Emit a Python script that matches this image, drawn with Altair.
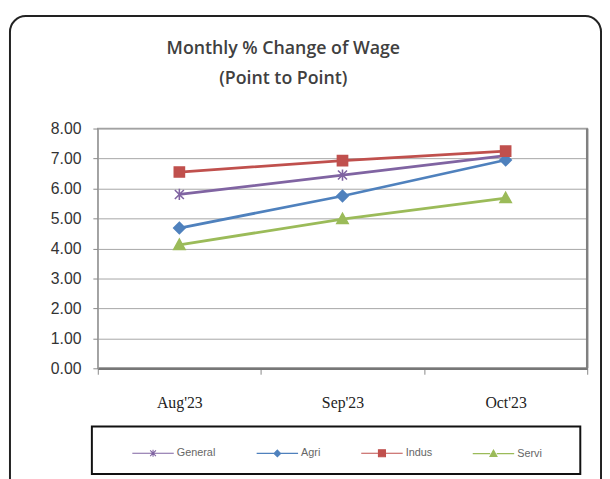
import altair as alt
import pandas as pd

months = ["Aug'23", "Sep'23", "Oct'23"]
series_names = ["General", "Agri", "Indus", "Servi"]
general = [5.80, 6.45, 7.10]
agri = [4.68, 5.75, 6.95]
indus = [6.55, 6.93, 7.25]
servi = [4.12, 4.98, 5.68]
y_ticks = [0, 1, 2, 3, 4, 5, 6, 7, 8]
title_lines = ["Monthly % Change of Wage", "(Point to Point)"]

colors = ["#8064A2", "#4F81BD", "#C0504D", "#9BBB59"]
marker_paths = [
    "M-0.8,-0.8L0.8,0.8M-0.8,0.8L0.8,-0.8M0,-1V1",
    "M0,-1L1,0L0,1L-1,0Z",
    "M-0.9,-0.9H0.9V0.9H-0.9Z",
    "M0,-1L1,0.8H-1Z",
]
legend_paths = [
    "M-1,0H1M-0.14,-0.14L0.14,0.14M-0.14,0.14L0.14,-0.14M0,-0.17V0.17",
    "M-1,0H-0.16M0.16,0H1M0,-0.16L0.16,0L0,0.16L-0.16,0Z",
    "M-1,0H-0.17M0.17,0H1M-0.17,-0.17H0.17V0.17H-0.17Z",
    "M-1,0H-0.16M0.16,0H1M0,-0.17L0.17,0.14H-0.17Z",
]

vals = {"General": general, "Agri": agri, "Indus": indus, "Servi": servi}
rows = []
for s in series_names:
    for m, v in zip(months, vals[s]):
        rows.append({"month": m, "series": s, "value": v})
df = pd.DataFrame(rows)

x_enc = alt.X(
    "month:N",
    sort=months,
    scale=alt.Scale(paddingInner=0, paddingOuter=0),
    axis=alt.Axis(
        title=None, labelAngle=0, tickBand="extent", labelFont="Liberation Serif",
        labelFontSize=16, labelColor="#222222", labelPadding=21, tickSize=6,
        tickColor="#888888", domainColor="#777777", domainWidth=2.5, grid=False,
    ),
)
y_enc = alt.Y(
    "value:Q",
    scale=alt.Scale(domain=[0, 8], nice=False),
    axis=alt.Axis(
        title=None, values=y_ticks, format=".2f", labelFont="Liberation Sans",
        labelFontSize=16, labelColor="#333333", labelPadding=12, tickSize=5,
        tickColor="#888888", domainColor="#999999", gridColor="#A6A6A6", gridWidth=1,
    ),
)

stroke_scale = alt.Scale(domain=series_names, range=colors)

lines = alt.Chart(df).mark_line(strokeWidth=2.8).encode(
    x=x_enc, y=y_enc,
    stroke=alt.Stroke("series:N", scale=stroke_scale, legend=None),
    detail="series:N",
)

points = alt.Chart(df).mark_point(filled=True, opacity=1, size=130, strokeWidth=1.6).encode(
    x=x_enc, y=y_enc,
    fill=alt.Fill("series:N", scale=stroke_scale, legend=None),
    stroke=alt.Stroke("series:N", scale=stroke_scale, legend=None),
    shape=alt.Shape("series:N", scale=alt.Scale(domain=series_names, range=marker_paths), legend=None),
)

leg = alt.Legend(
    title=None, orient="none", legendX=34, legendY=307, direction="horizontal",
    labelFont="Liberation Sans", labelFontSize=11, labelColor="#666666",
    labelOffset=2, columnPadding=38, symbolStrokeWidth=1.1, symbolOpacity=1,
    symbolSize=1764, padding=0,
)
legend_layer = alt.Chart(df).mark_point(filled=False, opacity=1).encode(
    x=x_enc, y=y_enc,
    fill=alt.Fill("series:N", scale=stroke_scale, legend=leg),
    stroke=alt.Stroke("series:N", scale=stroke_scale, legend=leg),
    shape=alt.Shape("series:N", scale=alt.Scale(domain=series_names, range=legend_paths), legend=leg),
).transform_filter("false")

one = pd.DataFrame({"a": [0]})
frame = alt.Chart(one).mark_rect(
    fillOpacity=0, stroke="#222222", strokeWidth=2, cornerRadius=16
).encode(x=alt.value(-89), x2=alt.value(510), y=alt.value(-114), y2=alt.value(400))
legend_box = alt.Chart(one).mark_rect(
    fillOpacity=0, stroke="#111111", strokeWidth=2
).encode(x=alt.value(-6), x2=alt.value(489), y=alt.value(302), y2=alt.value(350))
right_edge = alt.Chart(one).mark_rule(stroke="#808080", strokeWidth=2.5).encode(
    x=alt.value(496), y=alt.value(0), y2=alt.value(243)
)

title1 = alt.Chart(one).mark_text(
    font="Open Sans", fontSize=18, fontWeight=600, color="#404040", align="center", baseline="middle"
).encode(x=alt.value(188), y=alt.value(-81), text=alt.value(title_lines[0]))
title2 = alt.Chart(one).mark_text(
    font="Open Sans", fontSize=18, fontWeight=600, color="#404040", align="center", baseline="middle"
).encode(x=alt.value(188), y=alt.value(-50), text=alt.value(title_lines[1]))

chart = alt.layer(frame, legend_box, right_edge, title1, title2, lines, points, legend_layer).resolve_scale(
    stroke="independent", fill="independent", shape="independent"
).properties(
    width=496, height=243,
    autosize=alt.AutoSizeParams(type="none"),
    padding={"left": 91, "top": 119, "right": 15, "bottom": 109},
).configure_view(stroke="#A0A0A0", strokeWidth=1.5)

chart.save("out.html", embed_options={"renderer": "svg", "actions": False})
